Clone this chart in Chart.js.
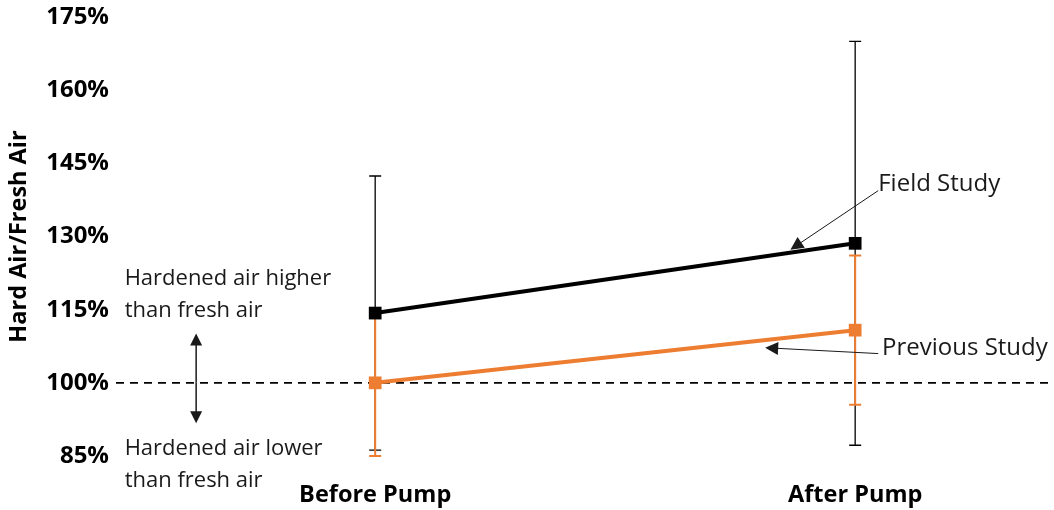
<!DOCTYPE html>
<html lang="en">
<head>
  <meta charset="UTF-8">
  <title>Hard Air / Fresh Air</title>
  <style>
    html, body { margin: 0; padding: 0; background: #fff; }
    #wrap { width: 1054px; height: 510px; }
  </style>
</head>
<body>
  <div id="wrap"><canvas id="grafico" width="1054" height="510"></canvas></div>

  <script src="https://cdn.jsdelivr.net/npm/chart.js"></script>
  <script>
    // data (percent)
    const categorias = ['Before Pump', 'After Pump'];
    const fieldStudy = [114.3, 128.6];
    const fieldErr = [28.1, 41.4];
    const previousStudy = [100.0, 110.8];
    const previousErr = [15.0, 15.3];
    const yTicks = [85, 100, 115, 130, 145, 160, 175];

    const NARANJA = '#ED7D31';
    const FUENTE = "'Open Sans', 'DejaVu Sans', sans-serif";

    const puntos = arr => arr.map((v, i) => ({ x: i, y: v }));

    // error bars + 100% line, drawn under the lines and squares
    const barrasError = {
      id: 'barrasError',
      beforeDatasetsDraw(chart) {
        const ctx = chart.ctx, x = chart.scales.x, y = chart.scales.y;
        const series = [
          { val: fieldStudy, err: fieldErr, color: '#000', w: 1.3 },
          { val: previousStudy, err: previousErr, color: NARANJA, w: 2 }
        ];
        ctx.save();
        ctx.strokeStyle = '#000';
        ctx.lineWidth = 1.6;
        ctx.setLineDash([8, 6]);
        const y100 = y.getPixelForValue(100);
        ctx.beginPath();
        ctx.moveTo(chart.chartArea.left, y100);
        ctx.lineTo(chart.width, y100);
        ctx.stroke();
        ctx.setLineDash([]);
        series.forEach(s => {
          ctx.strokeStyle = s.color;
          ctx.lineWidth = s.w;
          s.val.forEach((v, i) => {
            const px = x.getPixelForValue(i);
            const top = y.getPixelForValue(v + s.err[i]);
            const bot = y.getPixelForValue(v - s.err[i]);
            ctx.beginPath();
            ctx.moveTo(px, top); ctx.lineTo(px, bot);
            ctx.moveTo(px - 6, top); ctx.lineTo(px + 6, top);
            ctx.moveTo(px - 6, bot); ctx.lineTo(px + 6, bot);
            ctx.stroke();
          });
        });
        ctx.restore();
      }
    };

    function flecha(ctx, x1, y1, x2, y2, tam) {
      const ang = Math.atan2(y2 - y1, x2 - x1);
      ctx.beginPath();
      ctx.moveTo(x1, y1);
      ctx.lineTo(x2 - Math.cos(ang) * tam * 0.8, y2 - Math.sin(ang) * tam * 0.8);
      ctx.stroke();
      ctx.beginPath();
      ctx.moveTo(x2, y2);
      ctx.lineTo(x2 - tam * Math.cos(ang) + tam * 0.5 * Math.sin(ang), y2 - tam * Math.sin(ang) - tam * 0.5 * Math.cos(ang));
      ctx.lineTo(x2 - tam * Math.cos(ang) - tam * 0.5 * Math.sin(ang), y2 - tam * Math.sin(ang) + tam * 0.5 * Math.cos(ang));
      ctx.closePath();
      ctx.fill();
    }

    // text notes and arrows
    const notas = {
      id: 'notas',
      afterDatasetsDraw(chart) {
        const ctx = chart.ctx, x = chart.scales.x, y = chart.scales.y;
        const P = (a, b) => [x.getPixelForValue(a), y.getPixelForValue(b)];
        ctx.save();
        ctx.fillStyle = '#1a1a1a';
        ctx.strokeStyle = '#1a1a1a';
        ctx.textBaseline = 'middle';
        ctx.textAlign = 'left';

        const txt = (t, a, b) => { const p = P(a, b); ctx.fillText(t, p[0], p[1]); };
        ctx.font = '22px ' + FUENTE;
        txt('Hardened air higher', -0.522, 121.3);
        txt('than fresh air', -0.522, 114.7);
        txt('Hardened air lower', -0.522, 86.5);
        txt('than fresh air', -0.522, 79.9);
        ctx.font = '24px ' + FUENTE;
        txt('Field Study', 1.048, 140.8);
        txt('Previous Study', 1.056, 107.2);

        // double arrow
        ctx.lineWidth = 1.5;
        const a1 = P(-0.373, 100), aT = P(-0.373, 110.1), aB = P(-0.373, 91.7);
        flecha(ctx, a1[0], a1[1], aT[0], aT[1], 12);
        flecha(ctx, a1[0], a1[1], aB[0], aB[1], 12);

        // pointers to the series
        ctx.lineWidth = 1;
        let s = P(1.048, 139.4), e = P(0.865, 127.3);
        flecha(ctx, s[0], s[1], e[0], e[1], 13);
        s = P(1.048, 106.0); e = P(0.8125, 107.2);
        flecha(ctx, s[0], s[1], e[0], e[1], 13);
        ctx.restore();
      }
    };

    new Chart(document.getElementById('grafico'), {
      type: 'line',
      data: {
        datasets: [{
          label: 'Field Study',
          data: puntos(fieldStudy),
          borderColor: '#000',
          backgroundColor: '#000',
          borderWidth: 4,
          pointStyle: 'rect',
          pointRadius: 9,
          pointBorderWidth: 0,
          order: 1
        }, {
          label: 'Previous Study',
          data: puntos(previousStudy),
          borderColor: NARANJA,
          backgroundColor: NARANJA,
          borderWidth: 4,
          pointStyle: 'rect',
          pointRadius: 9,
          pointBorderWidth: 0,
          order: 2
        }]
      },
      options: {
        responsive: false,
        animation: false,
        layout: { padding: { top: 17, right: 0, bottom: 2, left: 5 } },
        plugins: {
          legend: { display: false },
          tooltip: { enabled: false }
        },
        scales: {
          x: {
            type: 'linear',
            min: -0.540,
            max: 1.3955,
            afterBuildTicks: ax => { ax.ticks = categorias.map((c, i) => ({ value: i })); },
            afterFit: ax => { ax.height = 52; ax.paddingLeft = 0; ax.paddingRight = 0; },
            grid: { display: false, drawTicks: false },
            border: { display: false },
            ticks: {
              padding: 25,
              maxRotation: 0,
              color: '#000',
              font: { family: FUENTE, size: 23.5, weight: 'bold' },
              callback: v => categorias[v]
            }
          },
          y: {
            min: 85,
            max: 175,
            afterBuildTicks: ax => { ax.ticks = yTicks.map(v => ({ value: v })); },
            afterFit: ax => { ax.paddingTop = 0; ax.paddingBottom = 0; },
            grid: { display: false, drawTicks: false },
            border: { display: false },
            title: {
              display: true,
              text: 'Hard Air/Fresh Air',
              color: '#000',
              padding: { top: 0, bottom: 6 },
              font: { family: FUENTE, size: 23.5, weight: 'bold' }
            },
            ticks: {
              padding: 7,
              color: '#000',
              font: { family: FUENTE, size: 24, weight: 'bold' },
              callback: v => v + '%'
            }
          }
        }
      },
      plugins: [barrasError, notas]
    });
  </script>
</body>
</html>
